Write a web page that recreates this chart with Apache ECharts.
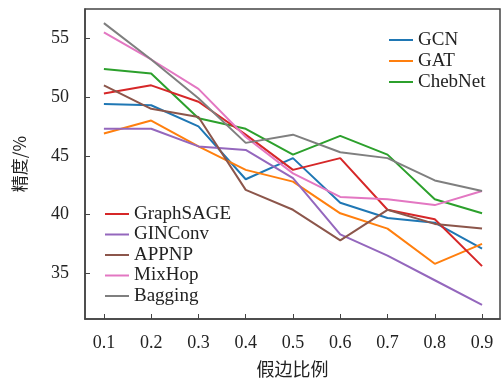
<!DOCTYPE html>
<html>
<head>
<meta charset="utf-8">
<script src="https://cdn.jsdelivr.net/npm/echarts@6/dist/echarts.min.js"></script>
<style>
  html, body { margin: 0; padding: 0; background: #fff; }
  #main { width: 501px; height: 382px; }
</style>
</head>
<body>
<div id="main"></div>
<script>
// 假边比例
var ratios = [0.1, 0.2, 0.3, 0.4, 0.5, 0.6, 0.7, 0.8, 0.9];
var yTicks = [35, 40, 45, 50, 55];

// 各模型精度
var gcn       = [49.4, 49.3, 47.5, 43.0, 44.8, 41.0, 39.7, 39.3, 37.1];
var gat       = [46.9, 48.0, 45.8, 43.8, 42.8, 40.1, 38.8, 35.8, 37.5];
var chebnet   = [52.4, 52.0, 48.2, 47.3, 45.1, 46.7, 45.1, 41.3, 40.1];
var graphsage = [50.3, 51.0, 49.6, 46.8, 43.8, 44.8, 40.4, 39.6, 35.6];
var ginconv   = [47.3, 47.3, 45.8, 45.5, 43.1, 38.3, 36.5, 34.4, 32.3];
var appnp     = [51.0, 49.0, 48.3, 42.1, 40.4, 37.8, 40.4, 39.2, 38.8];
var mixhop    = [55.5, 53.2, 50.7, 46.6, 43.5, 41.5, 41.3, 40.8, 42.0];
var bagging   = [56.3, 53.2, 49.9, 46.1, 46.8, 45.3, 44.8, 42.9, 42.0];

var names = ["GCN", "GAT", "ChebNet", "GraphSAGE", "GINConv", "APPNP", "MixHop", "Bagging"];
var values = [gcn, gat, chebnet, graphsage, ginconv, appnp, mixhop, bagging];
var colors = ["#1f77b4", "#ff7f0e", "#2ca02c", "#d62728", "#9467bd", "#8c564b", "#e377c2", "#7f7f7f"];

var serif = "Liberation Serif, Times New Roman, serif";

var chart = echarts.init(document.getElementById("main"));

var series = names.map(function (n, i) {
  return {
    name: n,
    type: "line",
    symbol: "none",
    color: colors[i],
    lineStyle: { width: 2 },
    data: ratios.map(function (x, j) { return [x, values[i][j]]; }),
    animation: false
  };
});

var legendText = { fontFamily: serif, fontSize: 19, color: "#222", lineHeight: 20 };

var option = {
  grid: {
    left: 85, right: 1, top: 9, bottom: 63,
    containLabel: false,
    outerBoundsMode: "none",
    show: true, borderColor: "#444", borderWidth: 1.5
  },
  legend: [
    {
      data: ["GCN", "GAT", "ChebNet"],
      orient: "vertical",
      left: 384, top: 25,
      icon: "rect", itemWidth: 24, itemHeight: 2, itemGap: 1,
      textStyle: legendText
    },
    {
      data: ["GraphSAGE", "GINConv", "APPNP", "MixHop", "Bagging"],
      orient: "vertical",
      left: 100, top: 199,
      icon: "rect", itemWidth: 24, itemHeight: 2, itemGap: 0.5,
      textStyle: legendText
    }
  ],
  xAxis: {
    type: "value",
    min: 0.06, max: 0.938,
    name: "假边比例",
    nameLocation: "middle",
    nameGap: 41,
    nameTextStyle: { fontFamily: "Noto Sans CJK SC", fontSize: 18, color: "#222" },
    axisLine: { lineStyle: { color: "#444", width: 1.5 } },
    axisTick: { inside: true, length: 5, customValues: ratios, lineStyle: { color: "#444" } },
    axisLabel: {
      customValues: ratios,
      margin: 15,
      fontFamily: serif, fontSize: 18, color: "#222",
      formatter: function (v) { return v.toFixed(1); }
    },
    splitLine: { show: false }
  },
  yAxis: {
    type: "value",
    min: 31.1, max: 57.5,
    name: "精度/%",
    nameLocation: "middle",
    nameRotate: 90,
    nameGap: 57,
    nameTextStyle: { fontFamily: "Noto Sans CJK SC", fontSize: 17, color: "#222" },
    axisLine: { show: true, lineStyle: { color: "#444", width: 1.5 } },
    axisTick: { inside: true, length: 5, customValues: yTicks, lineStyle: { color: "#444" } },
    axisLabel: {
      customValues: yTicks,
      margin: 16,
      fontFamily: serif, fontSize: 18, color: "#222"
    },
    splitLine: { show: false }
  },
  series: series
};

chart.setOption(option);
</script>
</body>
</html>
